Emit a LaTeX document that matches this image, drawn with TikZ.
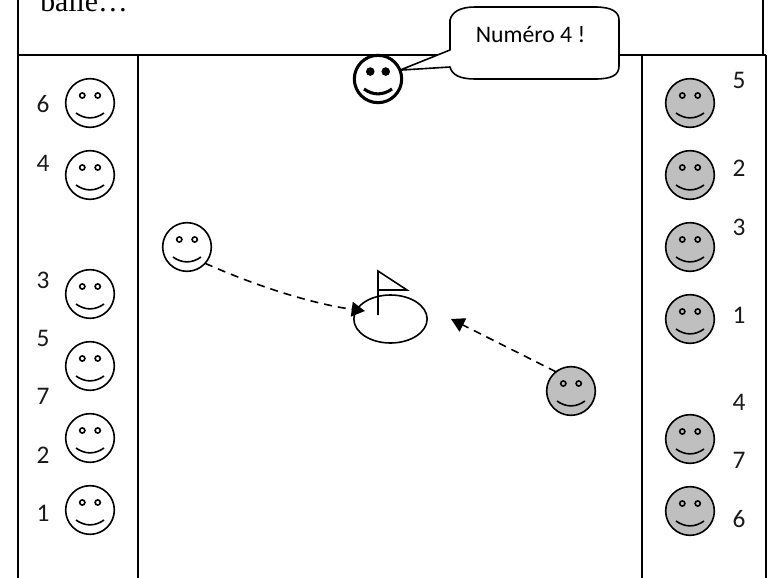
\documentclass[tikz,border=0pt]{standalone}
\usepackage{fontspec}
\setmainfont{Carlito}
\newfontfamily\titlefont{Liberation Serif}
\usetikzlibrary{arrows.meta,shapes.geometric}
\tikzset{
  x=0.75pt,y=-0.75pt,
  framing/.style={line width=1.4pt,black},
  facenode/.style={circle,draw=black,line width=1.2pt,minimum size=36.5pt,inner sep=0pt,outer sep=0pt},
  bluefill/.style={fill=white},
  greyfill/.style={fill=black!25},
  numlabel/.style={font=\fontsize{19}{22}\selectfont,inner sep=0pt,text=black!90},
  dasharrow/.style={line width=1.2pt,dash pattern=on 6pt off 4.5pt,-{Triangle[length=10pt,width=11pt]}},
}
\newcommand{\facefeatures}[2][1.2pt]{%
  \begin{scope}[shift={(#2)},line width=#1]
    \draw (-7.7,-7.5) circle[radius=2.6];
    \draw (7.7,-7.5) circle[radius=2.6];
    \draw (-14,10) .. controls (-5,16.5) and (5,16.5) .. (14,10);
  \end{scope}}
\newcommand{\plainface}[3]{\node[facenode,#3] (#1) at (#2) {};\facefeatures{#1}}
\begin{document}
\begin{tikzpicture}
\useasboundingbox (0,0) rectangle (769,578);
\begin{scope}
\clip (0,0) rectangle (769,578);
% frame lines
\coordinate (tl) at (18,0);
\coordinate (ml) at (18,55);
\coordinate (bl) at (18,578);
\coordinate (tr) at (763,0);
\coordinate (mr) at (763,55);
\coordinate (mr2) at (766,55);
\coordinate (br) at (766,578);
\coordinate (c1t) at (138,55);
\coordinate (c1b) at (138,578);
\coordinate (c2t) at (642,55);
\coordinate (c2b) at (642,578);
\draw[framing] (tl) -- (bl);
\draw[framing] (tr) -- (mr);
\draw[framing] (mr2) -- (br);
\draw[framing] (ml) -- (mr2);
\draw[framing] (c1t) -- (c1b);
\draw[framing] (c2t) -- (c2b);
\node[anchor=base west,inner sep=0pt,font=\titlefont\fontsize{22.3}{26}\selectfont] (title) at (40,12) {balle…};
% left team
\plainface{l6}{90,103}{bluefill}
\plainface{l4}{90,175}{bluefill}
\plainface{l3}{90,294}{bluefill}
\plainface{l5}{90,366}{bluefill}
\plainface{l2}{90,438}{bluefill}
\plainface{l1}{90,510}{bluefill}
% right team
\plainface{r5}{690,103}{greyfill}
\plainface{r2}{690,175}{greyfill}
\plainface{r3}{690,247}{greyfill}
\plainface{r1}{690,319}{greyfill}
\plainface{r4}{690,439}{greyfill}
\plainface{r6}{690,511}{greyfill}
% numbers
\node[numlabel] (n6) at (43,104) {6};
\node[numlabel] (n4) at (43,163) {4};
\node[numlabel] (n3) at (43,280) {3};
\node[numlabel] (n5) at (43,338) {5};
\node[numlabel] (n7) at (43,396) {7};
\node[numlabel] (n2) at (43,455) {2};
\node[numlabel] (n1) at (43,513) {1};
\node[numlabel] (m5) at (739,80) {5};
\node[numlabel] (m2) at (739,168) {2};
\node[numlabel] (m3) at (739,227) {3};
\node[numlabel] (m1) at (739,315) {1};
\node[numlabel] (m4) at (739,402) {4};
\node[numlabel] (m7) at (739,460) {7};
\node[numlabel] (m6) at (739,519) {6};
% hole and flag
\node[ellipse,draw,line width=1.2pt,minimum width=55pt,minimum height=36pt,inner sep=0pt] (hole) at (390.5,319) {};
\coordinate (poleT) at (378,271);
\coordinate (poleB) at (378,315);
\coordinate (flagP) at (407,290);
\coordinate (flagM) at (378,290);
\draw[line width=1.2pt,line join=miter] (poleB) -- (poleT) -- (flagP) -- (flagM);
% moving players
\plainface{pl}{187,247}{bluefill}
\plainface{pr}{571,391}{greyfill}
% arrows
\coordinate (a1e) at (365,311);
\coordinate (a2e) at (451,319);
\draw[dasharrow] (pl.-42) .. controls (265,290) and (320,305) .. (a1e);
\draw[dasharrow] (pr.128) -- (a2e);
% speaker and bubble
\node[facenode,bluefill,line width=2.3pt,minimum size=35.5pt] (sp) at (378,79) {};
\facefeatures[2.3pt]{sp}
\fill (370,72) circle[radius=3.6];
\fill (386,72) circle[radius=3.6];
\coordinate (tip) at (sp.22);
\draw[line width=1.2pt,fill=white,line join=round]
  (450,50) -- (tip) -- (450,67)
  .. controls (452,75) and (460,79) .. (475,79)
  -- (595,79) .. controls (612,79) and (619,75) .. (619,66)
  -- (619,20) .. controls (619,12) and (612,7) .. (595,7)
  -- (475,7) .. controls (460,7) and (452,12) .. (450,20) -- cycle;
\node[inner sep=0pt,font=\fontsize{17.8}{21}\selectfont] (bubtext) at (530.5,34) {Numéro 4 !};
\end{scope}
\end{tikzpicture}
\end{document}
